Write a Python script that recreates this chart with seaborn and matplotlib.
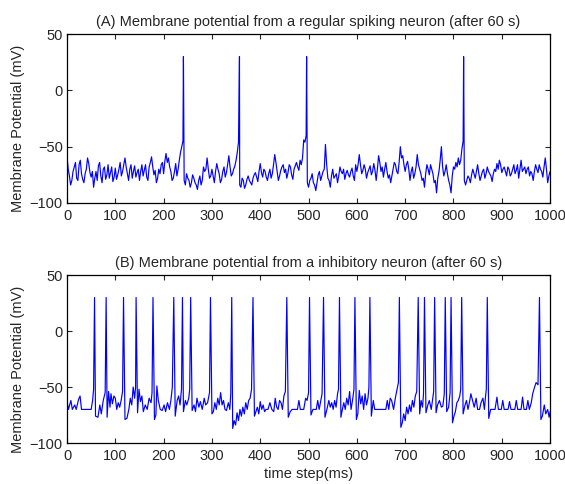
import numpy as np
import pandas as pd
import matplotlib
matplotlib.use("Agg")
import matplotlib.pyplot as plt
import seaborn as sns

# ---- data ----
# (A) regular spiking neuron: membrane potential on a 5 ms grid (mV)
a_step = 5
a_mv = [
    -59, -76, -80, -68, -78, -66, -74, -82, -70, -65,
    -77, -86, -72, -67, -76, -70, -79, -66, -73, -81,
    -69, -75, -64, -72, -60, -74, -70, -78, -67, -73,
    -80, -66, -71, -77, -68, -59, -75, -82, -70, -66,
    -74, -56, -60, -72, -78, -65, -70, -55, -45, -84,
    -78, -86, -75, -82, -88, -76, -80, -72, -60, -78,
    -70, -82, -65, -74, -79, -68, -73, -58, -76, -70,
    -62, -46, -86, -80, -84, -76, -82, -78, -73, -81,
    -65, -77, -72, -80, -70, -74, -57, -72, -76, -68,
    -73, -78, -66, -75, -70, -64, -71, -66, -44, -40,
    -86, -78, -82, -89, -75, -80, -72, -48, -78, -86,
    -70, -76, -82, -68, -74, -79, -71, -77, -69, -80,
    -72, -57, -74, -66, -78, -70, -75, -65, -80, -58,
    -72, -77, -64, -78, -82, -70, -66, -74, -50, -58,
    -72, -63, -80, -68, -74, -57, -70, -80, -86, -66,
    -75, -70, -82, -91, -72, -50, -76, -66, -80, -91,
    -68, -64, -60, -62, -45, -84, -76, -82, -70, -78,
    -66, -80, -72, -78, -68, -74, -81, -70, -65, -62,
    -73, -68, -76, -70, -74, -66, -71, -78, -62, -70,
    -74, -68, -72, -80, -66, -73, -70, -77, -60, -82,
    -72,
]
# values half-way between the grid points (t = 2.5, 7.5, ...)
a_mid_mv = [
    -70, -84, -72, -64, -80, -62, -79, -74, -60, -73,
    -72, -78, -80, -64, -82, -68, -75, -78, -68, -77,
    -79, -70, -76, -66, -68, -80, -66, -72, -77, -70,
    -72, -76, -66, -80, -64, -68, -71, -78, -74, -64,
    -63, -64, -68, -80, -72, -76, -62, -50, -80, -74,
    -80, -82, -78, -84, -80, -84, -68, -70, -70, -76,
    -76, -72, -70, -82, -72, -77, -66, -68, -74, -67,
    -55, -84, -78, -87, -79, -80, -84, -75, -77, -72,
    -73, -70, -77, -74, -78, -66, -64, -80, -71, -66,
    -70, -73, -68, -79, -67, -68, -62, -60, -46, -82,
    -80, -74, -84, -82, -72, -76, -70, -66, -80, -76,
    -78, -74, -76, -72, -70, -74, -75, -72, -76, -66,
    -66, -66, -71, -70, -73, -67, -72, -71, -70, -64,
    -68, -70, -72, -75, -76, -64, -72, -64, -60, -66,
    -66, -70, -72, -78, -68, -66, -74, -78, -74, -70,
    -66, -74, -80, -78, -62, -68, -72, -74, -84, -76,
    -70, -68, -66, -52, -80, -80, -78, -75, -74, -72,
    -74, -76, -70, -74, -72, -76, -74, -72, -70, -66,
    -70, -72, -68, -76, -70, -74, -66, -70, -72, -68,
    -70, -76, -74, -72, -70, -66, -72, -68, -70, -76,
]
a_spike_t = [241, 357, 496, 821]

# (B) inhibitory neuron: sub-threshold trace as (time, mV) points
b_t = [
    0, 3, 8, 11, 16, 19, 24, 27, 30, 50, 53, 55,
    59, 64, 68, 71, 75, 79,
    83, 86, 89, 91, 94, 97, 100, 103, 106, 109, 112, 115,
    120, 124, 128, 131, 134, 137, 140, 142,
    146, 149, 152, 155, 158, 162, 166, 170, 174, 176,
    181, 184, 186, 189, 193, 197, 201, 204, 208, 212, 215, 218,
    224, 228, 231, 234, 237,
    241, 245, 248, 252, 254,
    259, 263, 266, 269, 273, 276, 280, 284, 287, 291, 295,
    300, 303, 306, 309, 312, 315, 318, 321, 324, 327, 330, 334, 337, 339,
    343, 346, 349, 352, 355, 358, 361, 364, 367, 370, 373, 376, 379, 382,
    388, 391, 394, 397, 400, 403, 406, 409, 412, 416, 420, 424, 428, 431,
    434, 437, 440, 443, 446, 449, 452,
    458, 462, 466, 477, 480, 483, 490, 494, 497, 500,
    505, 509, 516, 519, 522, 525, 528,
    534, 538, 542, 545, 548, 551, 554, 557, 560, 562,
    567, 570, 573, 576, 579, 582, 585, 588, 591, 594,
    599, 602, 605, 608, 611, 614, 617, 620, 623, 625,
    630, 634, 637, 660, 663, 666, 669, 672, 676, 680, 684, 686,
    691, 694, 697, 700, 703, 706, 709, 712, 715, 718, 721, 724,
    730, 733, 736, 738,
    743, 747, 750, 754, 757, 759,
    764, 767, 771, 775, 778, 781,
    786, 790, 793,
    798, 801, 804, 807, 810, 813, 815,
    820, 824, 827, 830, 833, 836, 840, 843, 847, 850, 854, 857, 861, 864,
    866, 868,
    873, 877, 886, 890, 893, 899, 902, 905, 913, 916, 919, 927, 930, 933,
    940, 943, 946, 951, 954, 957, 961, 964, 968, 971, 975,
    981, 984, 988, 991, 995, 998, 1000,
]
b_mv = [
    -63, -70, -62, -70, -66, -70, -61, -58, -70, -70, -62, -52,
    -76, -77, -66, -74, -62, -55,
    -77, -54, -68, -56, -65, -58, -60, -70, -64, -68, -62, -54,
    -79, -78, -70, -60, -66, -50, -60, -50,
    -73, -52, -63, -58, -72, -66, -70, -60, -64, -55,
    -79, -75, -49, -62, -70, -71, -66, -72, -64, -70, -62, -50,
    -76, -62, -58, -66, -52,
    -72, -62, -66, -60, -52,
    -71, -66, -72, -60, -68, -63, -70, -60, -66, -64, -55,
    -74, -72, -64, -70, -60, -66, -55, -66, -62, -70, -71, -64, -70, -56,
    -87, -80, -84, -73, -80, -70, -76, -68, -74, -64, -70, -62, -60, -52,
    -76, -72, -68, -74, -63, -70, -66, -72, -70, -70, -64, -70, -72, -60,
    -68, -70, -62, -64, -70, -58, -54,
    -77, -72, -70, -70, -62, -70, -70, -60, -62, -55,
    -75, -70, -70, -62, -70, -63, -56,
    -77, -70, -62, -68, -64, -70, -62, -68, -56, -52,
    -77, -70, -64, -70, -60, -66, -54, -70, -62, -52,
    -79, -74, -53, -65, -58, -70, -56, -66, -60, -50,
    -76, -62, -70, -70, -62, -70, -60, -62, -70, -59, -50, -46,
    -86, -82, -74, -80, -68, -74, -66, -72, -62, -68, -58, -54,
    -74, -62, -68, -56,
    -73, -66, -62, -70, -60, -54,
    -73, -66, -62, -68, -67, -56,
    -72, -68, -55,
    -82, -76, -72, -64, -62, -58, -52,
    -74, -66, -62, -70, -64, -56, -63, -68, -60, -70, -70, -64, -60, -70,
    -60, -52,
    -78, -70, -70, -59, -70, -70, -62, -70, -70, -63, -70, -70, -62, -70,
    -70, -59, -70, -70, -62, -70, -64, -56, -50, -46, -48,
    -79, -76, -66, -74, -70, -77, -72,
]
b_spike_t = [57, 81, 117, 143, 178, 221, 239, 256, 297, 341, 385, 455,
             502, 531, 564, 596, 627, 688, 727, 740, 761, 783, 795, 817,
             870, 978]
spike_peak = 30

titles = ["(A) Membrane potential from a regular spiking neuron (after 60 s)",
          "(B) Membrane potential from a inhibitory neuron (after 60 s)"]

# build traces: sub-threshold points plus the spike peaks
a_t = np.arange(len(a_mv)) * a_step
a_mid_t = np.arange(len(a_mid_mv)) * a_step + a_step / 2
df_a = pd.DataFrame({"t": np.concatenate([a_t, a_mid_t, a_spike_t]),
                     "mv": np.concatenate([a_mv, a_mid_mv,
                                           [spike_peak] * len(a_spike_t)])})
df_b = pd.DataFrame({"t": np.concatenate([b_t, b_spike_t]),
                     "mv": np.concatenate([b_mv, [spike_peak] * len(b_spike_t)])})
df_a = df_a.sort_values("t")
df_b = df_b.sort_values("t")

sns.set_style("ticks")
plt.rcParams["font.family"] = ["Liberation Sans", "DejaVu Sans"]
plt.rcParams["font.size"] = 10.5
plt.rcParams["xtick.direction"] = "in"
plt.rcParams["ytick.direction"] = "in"
plt.rcParams["xtick.top"] = True
plt.rcParams["ytick.right"] = True

fig = plt.figure(figsize=(5.65, 4.84), dpi=100)
ax1 = fig.add_axes([0.1186, 0.5806, 0.855, 0.349])
ax2 = fig.add_axes([0.1186, 0.0847, 0.855, 0.347])

for ax, df, title in [(ax1, df_a, titles[0]), (ax2, df_b, titles[1])]:
    sns.lineplot(data=df, x="t", y="mv", ax=ax, color="#0000ff",
                 linewidth=0.85, estimator=None, sort=False)
    ax.set_xlim(0, 1000)
    ax.set_ylim(-100, 50)
    ax.set_xticks(range(0, 1001, 100))
    ax.set_yticks([-100, -50, 0, 50])
    ax.set_title(title, fontsize=10.5, pad=6)
    ax.set_ylabel("Membrane Potential (mV)", fontsize=10.5)
    ax.yaxis.set_label_coords(-0.087, 0.44)
    ax.set_xlabel("")
    ax.tick_params(axis="x", length=3.5, width=0.8, pad=4.5, labelsize=10.5)
    ax.tick_params(axis="y", length=3.5, width=0.8, pad=3, labelsize=10.5)
    for s in ax.spines.values():
        s.set_visible(True)
        s.set_linewidth(0.9)
        s.set_color("black")

ax2.set_xlabel("time step(ms)", fontsize=10.5, labelpad=2.5)

fig.savefig("out.png", dpi=100)
